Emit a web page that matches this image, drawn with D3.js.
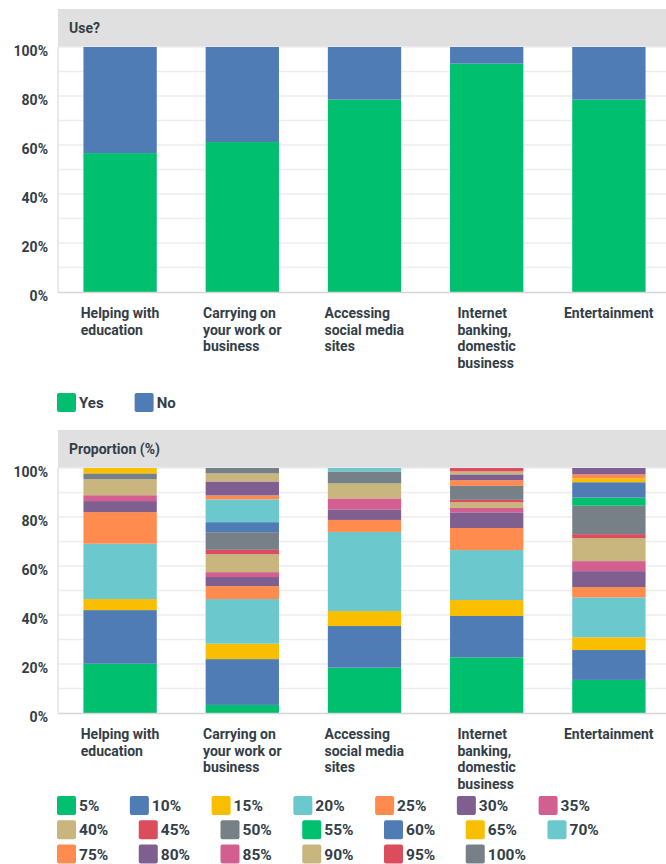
<!DOCTYPE html>
<html>
<head>
<meta charset="utf-8">
<script src="https://cdn.jsdelivr.net/npm/d3@7"></script>
<style>
  html, body { margin: 0; padding: 0; background: #ffffff; }
  svg { display: block; font-family: Roboto, "Noto Sans", sans-serif; }
</style>
</head>
<body>
<svg id="chart" width="666" height="864"></svg>
<script>
// ---------- DATA ----------
const categories = [
  "Helping with\neducation",
  "Carrying on\nyour work or\nbusiness",
  "Accessing\nsocial media\nsites",
  "Internet\nbanking,\ndomestic\nbusiness",
  "Entertainment"
];
const useSeries = ["Yes", "No"];
const useYes = [56.7, 61.2, 78.5, 93.2, 78.5];
const useNo  = [43.3, 38.8, 21.5, 6.8, 21.5];

const proportionLevels = ["5%","10%","15%","20%","25%","30%","35%","40%","45%","50%",
                          "55%","60%","65%","70%","75%","80%","85%","90%","95%","100%"];
const propEducation = [20.1,21.9,4.5,22.6,12.9,4.5,2.4,6.5,0,2.4,0,0,2.2,0,0,0,0,0,0,0];
const propWork      = [3.3,18.7,6.3,18.2,5.3,3.7,2.0,7.3,1.8,7.2,0,4.1,0,9.3,1.6,5.7,0,3.3,0,2.2];
const propSocial    = [18.5,17.0,6.1,32.3,4.9,4.3,4.5,6.1,0,4.9,0,0,0,1.4,0,0,0,0,0,0];
const propBanking   = [22.7,16.9,6.5,20.4,9.0,6.4,1.8,2.3,1.0,5.7,0,0,0,0,2.3,2.4,0,1.2,1.4,0];
const propEntertain = [13.5,12.2,5.2,16.3,4.2,6.5,4.1,9.4,1.6,11.6,3.3,6.3,1.6,0,1.6,2.6,0,0,0,0];
const yTicks = [0, 20, 40, 60, 80, 100];

// ---------- STYLE ----------
const palette = ["#00BF6F","#507CB6","#F9BE00","#6BC8CD","#FF8B4F","#7F5F90","#D25F90","#C8B67E","#DB4D5C","#768086"];
const textColor = "#333E48";
const svg = d3.select("#chart");
const W = 666;

const x = d3.scaleBand().domain(categories).range([59, 670]).paddingInner(0.4).paddingOuter(0.2);

function panel(title, top, plotTop, plotBottom, rows, keys, colorOf) {
  svg.append("rect").attr("x", 58).attr("y", top).attr("width", W - 58).attr("height", plotTop - top)
     .attr("fill", "#E0E0E0");
  svg.append("text").attr("x", 69).attr("y", (top + plotTop) / 2).attr("dy", "0.35em")
     .attr("font-size", 14).attr("font-weight", 700).attr("fill", textColor).text(title);

  const y = d3.scaleLinear().domain([0, 100]).range([plotBottom, plotTop]);
  const g = svg.append("g");
  g.selectAll("line.grid").data(d3.range(10, 101, 10)).join("line")
    .attr("x1", 59).attr("x2", W).attr("y1", d => y(d)).attr("y2", d => y(d))
    .attr("stroke", "#EDEDED").attr("stroke-width", 1.5);

  const stack = d3.stack().keys(keys.map((k, i) => i)).value((d, i) => d.values[i]);
  const layers = stack(rows);
  layers.forEach((layer, li) => {
    svg.append("g").selectAll("rect").data(layer).join("rect")
      .attr("x", d => x(d.data.cat))
      .attr("width", x.bandwidth())
      .attr("y", d => y(d[1]))
      .attr("height", d => Math.max(0, y(d[0]) - y(d[1])))
      .attr("fill", colorOf(li));
  });

  svg.append("line").attr("x1", 58).attr("x2", 58).attr("y1", plotTop).attr("y2", plotBottom)
     .attr("stroke", "#D5D5D5").attr("stroke-width", 1);
  svg.append("line").attr("x1", 58).attr("x2", W).attr("y1", plotBottom + 0.5).attr("y2", plotBottom + 0.5)
     .attr("stroke", "#D5D5D5").attr("stroke-width", 1.5);

  const yAxis = d3.axisLeft(y).tickValues(yTicks).tickFormat(d => d + "%").tickSize(0).tickPadding(0);
  const ya = svg.append("g").attr("transform", "translate(48,4)").call(yAxis);
  ya.select(".domain").remove();
  ya.selectAll("text").attr("font-size", 14).attr("font-weight", 700).attr("fill", textColor)
    .attr("font-family", "Roboto, sans-serif");

  categories.forEach(cat => {
    const lines = cat.split("\n");
    const t = svg.append("text").attr("font-size", 14).attr("font-weight", 700).attr("fill", textColor);
    lines.forEach((ln, i) => {
      t.append("tspan").attr("x", 0).attr("y", plotBottom + 21 + i * 16.7).attr("dy", "0.35em").text(ln);
    });
    const w = t.node().getBBox().width;
    const cx = x(cat) + x.bandwidth() / 2;
    t.attr("transform", `translate(${cx - w / 2},0)`);
  });
}

const useRows = categories.map((c, i) => ({ cat: c, values: [useYes[i], useNo[i]] }));
panel("Use?", 9, 47, 292, useRows, useSeries, i => palette[i]);

function legend(items, colorOf, x0, y0, rowH, maxX, fontSize, gap) {
  let cx = x0, cy = y0;
  items.forEach((name, i) => {
    const t = svg.append("text").attr("font-size", fontSize).attr("font-weight", 700).attr("fill", textColor)
      .attr("dy", "0.35em").text(name);
    const tw = t.node().getComputedTextLength();
    const itemW = 19 + 3 + tw;
    if (cx + itemW > maxX) { cx = x0; cy += rowH; }
    svg.append("rect").attr("x", cx).attr("y", cy).attr("width", 19).attr("height", 19)
      .attr("rx", 2).attr("fill", colorOf(i));
    t.attr("x", cx + 22).attr("y", cy + 9.5);
    cx += itemW + gap;
  });
}
legend(useSeries, i => palette[i], 57, 393, 24, 666, 15, 31);

const propAll = [propEducation, propWork, propSocial, propBanking, propEntertain];
const propRows = categories.map((c, i) => ({ cat: c, values: propAll[i] }));
panel("Proportion (%)", 430, 468, 713, propRows, proportionLevels, i => palette[i % 10]);

legend(proportionLevels, i => palette[i % 10], 57, 796, 24.3, 640, 15.5, 30.5);
</script>
</body>
</html>
